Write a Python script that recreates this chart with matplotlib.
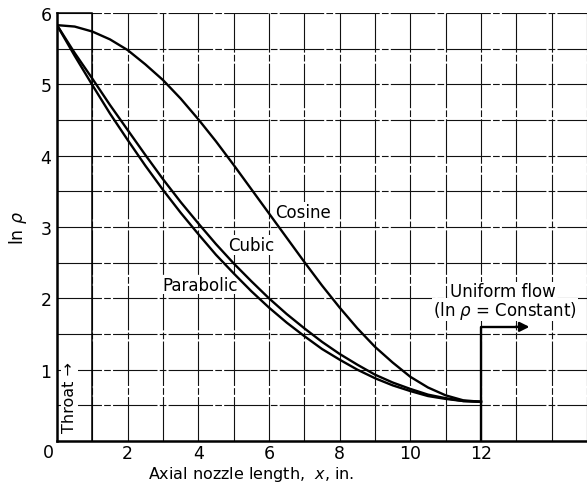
import numpy as np
import matplotlib
matplotlib.use('Agg')
import matplotlib.pyplot as plt

# Values (ln rho vs axial length x, in.)
x_in = [0, 0.5, 1, 1.5, 2, 2.5, 3, 3.5, 4, 4.5, 5, 5.5, 6, 6.5, 7, 7.5, 8,
        8.5, 9, 9.5, 10, 10.5, 11, 11.5, 12]
cosine = [5.83, 5.81, 5.74, 5.63, 5.48, 5.28, 5.06, 4.80, 4.51, 4.20, 3.87,
          3.53, 3.19, 2.85, 2.51, 2.18, 1.87, 1.58, 1.32, 1.10, 0.90, 0.75,
          0.64, 0.57, 0.55]
cubic = [5.83, 5.44, 5.08, 4.71, 4.36, 4.01, 3.67, 3.35, 3.05, 2.76, 2.49,
         2.24, 2.00, 1.78, 1.58, 1.39, 1.22, 1.07, 0.93, 0.82, 0.73, 0.65,
         0.60, 0.56, 0.55]
parabolic = [5.83, 5.40, 4.99, 4.59, 4.22, 3.86, 3.52, 3.20, 2.90, 2.61, 2.35,
             2.10, 1.87, 1.66, 1.47, 1.29, 1.14, 1.00, 0.88, 0.78, 0.70, 0.63,
             0.59, 0.56, 0.55]

x_ticks = [2, 4, 6, 8, 10, 12]
y_ticks = [1, 2, 3, 4, 5, 6]
uniform_level = 1.6

plt.rcParams['font.family'] = ['DejaVu Sans']

fig = plt.figure(figsize=(5.87, 4.85), dpi=100)
ax = fig.add_axes([57 / 587, 43 / 485, 530 / 587, 428 / 485])
ax.set_xlim(0, 15)
ax.set_ylim(0, 6)

# grid, drawn by hand so it looks like the printed graph paper
for gx in range(1, 16):
    ax.axvline(gx, color='#111111', lw=0.8, ls=(0, (40, 2, 6, 2)), zorder=1)
for gy in np.arange(0.5, 6.01, 0.5):
    ax.axhline(gy, color='#111111', lw=0.8, ls=(0, (40, 2, 6, 2)), zorder=1)
ax.plot([1, 1], [0, 6], color='k', lw=1.1, zorder=1)
ax.plot([0, 1], [6, 6], color='k', lw=1.1, zorder=1, clip_on=False)

ax.plot(x_in, cosine, color='k', lw=1.7, zorder=5)
ax.plot(x_in, cubic, color='k', lw=1.7, zorder=5)
ax.plot(x_in, parabolic, color='k', lw=1.7, zorder=5)

# uniform flow marker beyond x = 12
ax.plot([12, 12, 13.0], [0, uniform_level, uniform_level], color='k', lw=1.7, zorder=5)
ax.annotate('', xy=(13.45, uniform_level), xytext=(12.9, uniform_level),
            arrowprops=dict(arrowstyle='-|>', color='k', lw=1.7, mutation_scale=14),
            zorder=5)

box = dict(facecolor='white', edgecolor='none', pad=0.5)
ax.text(6.95, 3.21, 'Cosine', fontsize=12, ha='center', va='center', bbox=box, zorder=4)
ax.text(5.49, 2.75, 'Cubic', fontsize=12, ha='center', va='center', bbox=box, zorder=4)
ax.text(4.06, 2.19, 'Parabolic', fontsize=12, ha='center', va='center', bbox=box, zorder=4)
ax.text(12.62, 2.10, 'Uniform flow', fontsize=12, ha='center', va='center', bbox=box, zorder=4)
ax.text(12.68, 1.84, '(ln $\\rho$ = Constant)', fontsize=12, ha='center', va='center',
        bbox=box, zorder=4)
ax.text(0.35, 0.62, 'Throat \u2192', fontsize=11.5, rotation=90, ha='center', va='center',
        bbox=box, zorder=4)

ax.set_xticks(x_ticks)
ax.set_yticks(y_ticks)
ax.tick_params(length=0, labelsize=12.5, pad=2)
ax.tick_params(axis='y', pad=4)
ax.text(-0.25, -0.15, '0', fontsize=12.5, ha='center', va='center', clip_on=False)

ax.set_xlabel('Axial nozzle length,  $x$, in.', fontsize=11.5, va='top')
ax.xaxis.set_label_coords(5.5 / 15, -0.053)
ax.set_ylabel('ln $\\rho$', fontsize=12.5, labelpad=8)

for s in ['top', 'right']:
    ax.spines[s].set_visible(False)
for s in ['left', 'bottom']:
    ax.spines[s].set_linewidth(1.8)
    ax.spines[s].set_zorder(6)

fig.savefig('out.png', dpi=100)
